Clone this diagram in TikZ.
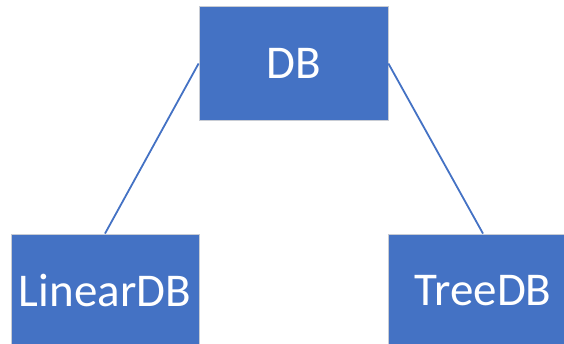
\documentclass[tikz,border=0pt]{standalone}
\usepackage{fontspec}
\setmainfont{Carlito}
\definecolor{boxblue}{HTML}{4472C4}
\definecolor{boxedge}{HTML}{C8CCD4}
\begin{document}
\begin{tikzpicture}[x=1pt,y=1pt,
  dbbox/.style={rectangle, fill=boxblue, draw=boxedge, line width=0.8pt,
    minimum height=114pt, inner sep=0pt, text=white,
    font=\fontsize{47}{47}\selectfont},
  link/.style={draw=boxblue, line width=1.8pt}]
\useasboundingbox (0,0) rectangle (564,-344);
\clip (0,0) rectangle (564,-344);
\node[dbbox, minimum width=189pt] (db) at (293.5,-63.5) {DB};
\node[dbbox, minimum width=188pt] (lin) at (105,-291) {LinearDB};
\node[dbbox, minimum width=190pt] (tree) at (483,-291) {TreeDB};
\draw[link] (db.west) -- (lin.north);
\draw[link] (db.east) -- (tree.north);
\end{tikzpicture}
\end{document}
